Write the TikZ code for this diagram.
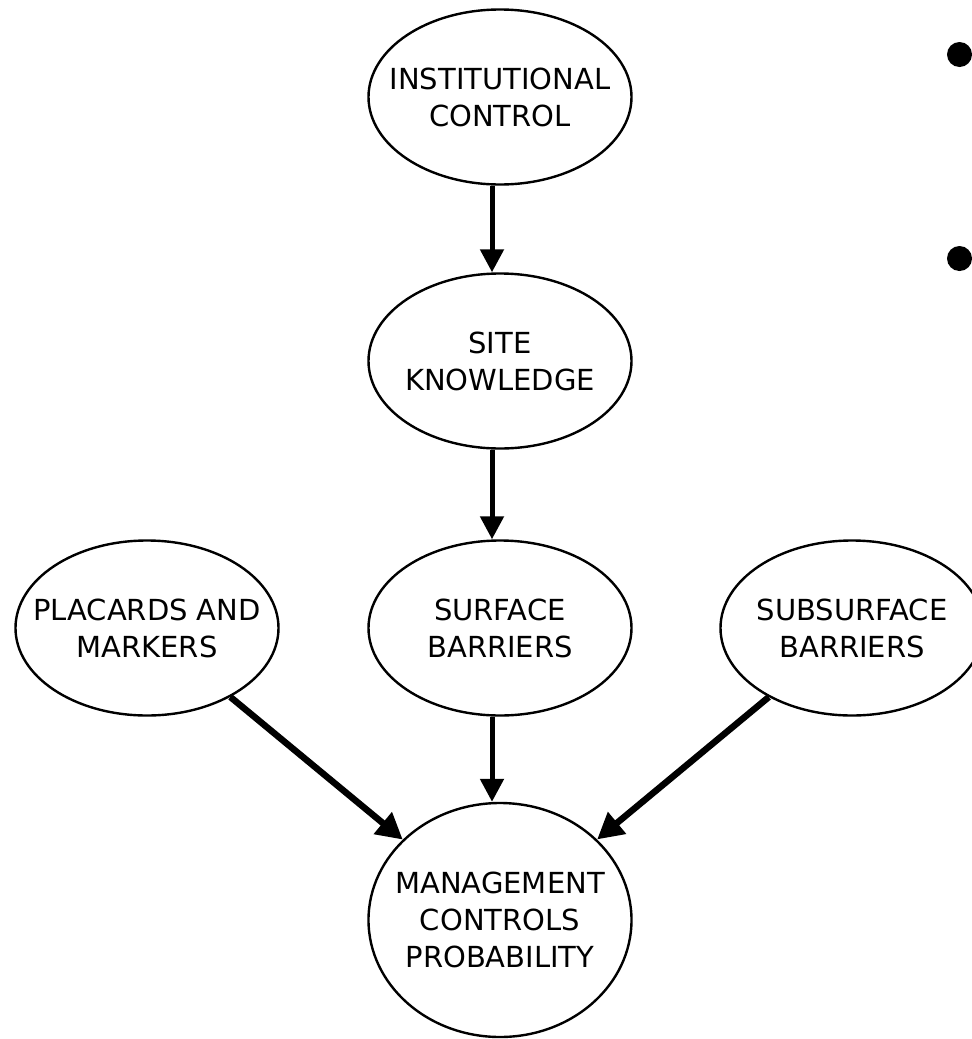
\documentclass[tikz,border=0pt]{standalone}
\usepackage{fontspec}
\setmainfont{DejaVu Sans}
\usetikzlibrary{shapes.geometric,arrows.meta}
\begin{document}
\begin{tikzpicture}[x=1pt,y=-1pt,
  ell/.style={draw,ellipse,line width=2.4pt,minimum width=263pt,minimum height=175pt,inner sep=0pt},
  lbl/.style={font=\fontsize{29}{37}\selectfont,align=center,inner sep=0pt},
  arr/.style={line width=5pt,-{Triangle[length=23pt,width=23pt]}},
  darr/.style={line width=6.5pt,-{Triangle[length=26pt,width=27pt]}}]
\clip (0,0) rectangle (972,1039);
\node[ell,label={[lbl]center:INSTITUTIONAL\\CONTROL}] (ic) at (500,97) {};
\node[ell,label={[lbl]center:SITE\\KNOWLEDGE}] (sk) at (500,361) {};
\node[ell,label={[lbl]center:SURFACE\\BARRIERS}] (sf) at (500,628) {};
\node[ell,label={[lbl]center:PLACARDS AND\\MARKERS}] (pm) at (147,628) {};
\node[ell,label={[lbl]center:SUBSURFACE\\BARRIERS}] (sb) at (852,628) {};
\node[ell,minimum height=234pt,label={[lbl]center:MANAGEMENT\\CONTROLS\\PROBABILITY}] (mc) at (500,920) {};
\draw[arr] ([xshift=-8pt]ic.south) -- ([xshift=-8pt]sk.north);
\draw[arr] ([xshift=-8pt]sk.south) -- ([xshift=-8pt]sf.north);
\draw[arr] ([xshift=-8pt]sf.south) -- ([xshift=-8pt]mc.north);
\draw[darr] (pm) -- (mc);
\draw[darr] (sb) -- (mc);
\fill (959.5,54.5) circle (12.5);
\fill (959.5,258.5) circle (12.5);
\end{tikzpicture}
\end{document}
